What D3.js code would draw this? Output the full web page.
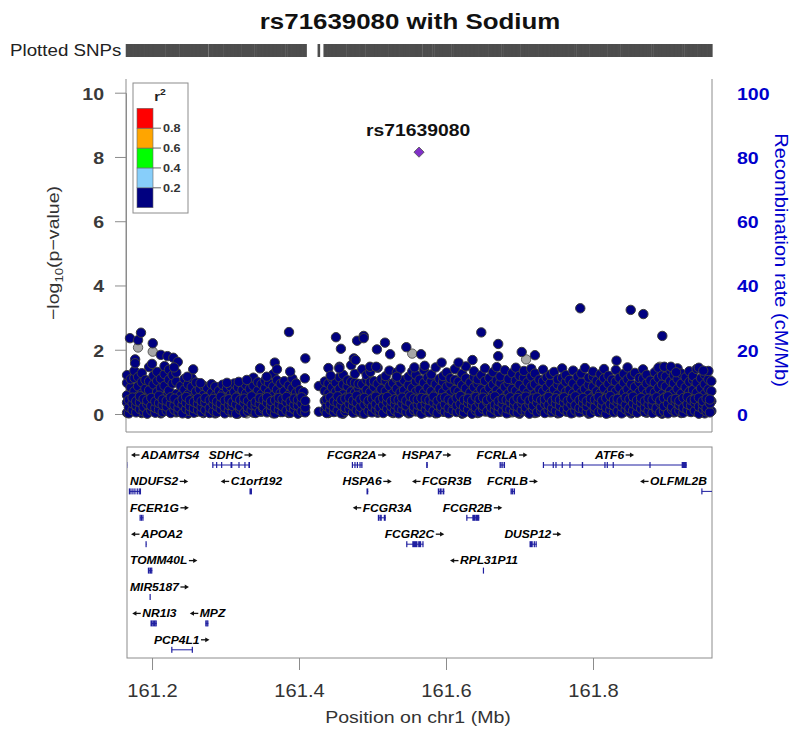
<!DOCTYPE html>
<html><head><meta charset="utf-8">
<script src="https://cdn.jsdelivr.net/npm/d3@7"></script>
<style>
body{margin:0;background:#fff}
text{font-family:"Liberation Sans",Arial,Helvetica,sans-serif}
</style></head><body>
<svg id="chart" width="793" height="730"></svg>
<script>
// ---- data ---------------------------------------------------------------
const chartTitle = "rs71639080 with Sodium";
const chromosome = "chr1";
const leadSnp = {name: "rs71639080", pos: 161.5633, logp: 8.15};
const xTicks = [161.2, 161.4, 161.6, 161.8];
const yTicks = [0, 2, 4, 6, 8, 10];
const recombTicks = [0, 20, 40, 60, 80, 100];
const ldBreaks = [0.2, 0.4, 0.6, 0.8];
const ldColors = ["#000080", "#87CEFA", "#00FF00", "#FFA500", "#FF0000"];

// SNPs with r2 < 0.2 to the lead SNP: [position (Mb), -log10 p, -log10 p, ...]
const snpColumns = [
  [161.166, 0.04,0.36,0.58,0.97,1.21], [161.171, 0.17,0.44,0.83,1.08],
  [161.176, 0.09,0.29,0.71,1.12,1.34], [161.181, 0.23,0.55,0.86,1.15],
  [161.186, 0.03,0.41,0.64,0.99,1.27], [161.191, 0.12,0.51,0.79,1.06],
  [161.196, 0.07,0.33,0.74,1.02,1.46], [161.202, 0.26,0.49,0.92,1.19],
  [161.207, 0.11,0.38,0.69,1.03,1.31], [161.212, 0.02,0.45,0.81,1.10],
  [161.217, 0.19,0.53,0.88,1.24,1.49], [161.223, 0.08,0.31,0.73,1.07,1.38],
  [161.228, 0.15,0.47,0.95,1.21], [161.233, 0.05,0.35,0.62,1.01,1.29],
  [161.239, 0.22,0.57,0.87], [161.244, 0.12,0.40,0.76,1.09],
  [161.249, 0.01,0.30,0.61,0.92], [161.254, 0.18,0.48,0.84,1.12],
  [161.260, 0.06,0.39,0.70,0.98], [161.265, 0.14,0.46,0.77],
  [161.270, 0.03,0.27,0.60,0.88], [161.275, 0.21,0.53,0.81],
  [161.281, 0.10,0.37,0.66,0.93], [161.286, 0.02,0.28,0.57,0.85],
  [161.291, 0.16,0.46,0.72], [161.296, 0.08,0.35,0.63,0.91],
  [161.302, 0.24,0.51,0.79], [161.307, 0.05,0.32,0.60,0.86],
  [161.312, 0.13,0.42,0.69,0.95], [161.317, 0.01,0.28,0.56,0.83],
  [161.323, 0.19,0.47,0.75], [161.328, 0.09,0.36,0.64,0.90],
  [161.333, 0.22,0.50,0.78], [161.338, 0.04,0.31,0.59,0.88,1.13],
  [161.344, 0.15,0.44,0.73,0.99], [161.349, 0.07,0.34,0.62,0.93],
  [161.354, 0.25,0.53,0.81,1.04], [161.359, 0.11,0.39,0.68,0.97],
  [161.365, 0.02,0.30,0.57,0.86,1.24], [161.370, 0.18,0.48,0.76,1.05],
  [161.375, 0.06,0.37,0.65,0.94], [161.380, 0.14,0.43,0.71,1.02],
  [161.386, 0.03,0.29,0.60,0.89], [161.391, 0.21,0.52,0.80,1.10],
  [161.396, 0.09,0.35,0.66,0.95], [161.401, 0.16,0.45,0.74],
  [161.406, 0.07,0.37,0.68], [161.427, 0.07,0.87],
  [161.435, 0.12,0.41,0.72,1.01], [161.440, 0.03,0.33,0.64,0.95,1.43],
  [161.445, 0.20,0.52,0.83,1.10], [161.450, 0.08,0.38,0.69,0.98],
  [161.455, 0.16,0.47,0.78,1.14,1.47], [161.460, 0.01,0.29,0.61,0.92,1.22],
  [161.466, 0.23,0.55,0.86,1.05], [161.471, 0.10,0.40,0.70,1.00,1.52],
  [161.476, 0.05,0.34,0.66,0.97,1.25], [161.481, 0.18,0.49,0.80,0.94],
  [161.486, 0.02,0.31,0.63,0.93,1.39], [161.492, 0.14,0.44,0.75,1.06,1.21],
  [161.497, 0.07,0.37,0.68,0.99,1.31], [161.502, 0.21,0.53,0.84,1.02],
  [161.507, 0.04,0.32,0.62,0.94,1.44], [161.512, 0.15,0.46,0.77,1.08],
  [161.518, 0.09,0.39,0.71,1.03,1.18], [161.523, 0.24,0.56,0.87,1.35],
  [161.528, 0.03,0.33,0.65,0.96], [161.533, 0.17,0.48,0.79,1.10,1.29],
  [161.538, 0.06,0.36,0.67,0.98,1.41], [161.543, 0.13,0.43,0.74,1.05],
  [161.549, 0.02,0.30,0.61,0.90,1.16], [161.554, 0.19,0.50,0.81,1.32],
  [161.559, 0.08,0.38,0.69,1.01,1.22], [161.564, 0.15,0.45,0.76,1.07],
  [161.570, 0.04,0.34,0.66,0.97,1.37], [161.575, 0.20,0.51,0.82,1.14],
  [161.580, 0.10,0.40,0.71,1.02,1.23], [161.586, 0.02,0.31,0.62,0.93,1.45],
  [161.591, 0.17,0.47,0.78,1.09], [161.596, 0.07,0.37,0.68,1.00,1.18],
  [161.601, 0.23,0.54,0.85,1.29], [161.606, 0.05,0.33,0.64,0.95,1.11],
  [161.612, 0.14,0.44,0.75,1.06,1.40], [161.617, 0.09,0.39,0.70,1.01],
  [161.622, 0.01,0.28,0.59,0.90,1.25], [161.627, 0.18,0.49,0.80,1.11,1.48],
  [161.633, 0.06,0.36,0.67,0.98], [161.638, 0.21,0.52,0.83,1.15,1.33],
  [161.643, 0.03,0.32,0.63,0.94,1.08], [161.648, 0.15,0.46,0.77,1.21],
  [161.653, 0.08,0.38,0.69,1.03,1.42], [161.659, 0.19,0.50,0.81,1.12],
  [161.664, 0.02,0.30,0.61,0.92,1.30], [161.669, 0.13,0.43,0.74,1.05,1.46],
  [161.674, 0.07,0.35,0.66,0.97,1.17], [161.680, 0.22,0.53,0.84,1.36],
  [161.685, 0.04,0.33,0.64,0.95,1.09], [161.690, 0.16,0.47,0.78,1.27],
  [161.695, 0.10,0.41,0.72,1.04,1.44], [161.700, 0.01,0.29,0.60,0.91,1.19],
  [161.706, 0.18,0.49,0.80,1.13,1.34], [161.711, 0.06,0.36,0.67,0.99],
  [161.716, 0.24,0.55,0.86,1.17,1.41], [161.721, 0.03,0.31,0.62,0.93,1.26],
  [161.727, 0.14,0.45,0.76,1.07], [161.732, 0.09,0.39,0.70,1.02,1.38],
  [161.737, 0.20,0.51,0.82,1.14], [161.742, 0.05,0.34,0.65,0.96,1.22],
  [161.747, 0.16,0.46,0.77,1.31], [161.752, 0.02,0.30,0.61,0.92,1.08],
  [161.758, 0.19,0.50,0.81,1.12,1.42], [161.763, 0.08,0.38,0.69,1.00,1.21],
  [161.768, 0.13,0.44,0.75,1.06], [161.773, 0.04,0.33,0.64,0.95,1.35],
  [161.779, 0.21,0.52,0.83,1.15], [161.784, 0.07,0.36,0.67,0.98,1.26],
  [161.789, 0.16,0.47,0.78,1.43], [161.794, 0.01,0.29,0.60,0.91,1.13],
  [161.800, 0.23,0.54,0.85,1.16,1.32], [161.805, 0.10,0.40,0.71,1.03],
  [161.810, 0.05,0.34,0.65,0.96,1.24], [161.815, 0.18,0.49,0.80,1.11,1.40],
  [161.821, 0.03,0.32,0.63,0.94,1.19], [161.826, 0.14,0.45,0.76,1.07],
  [161.831, 0.09,0.39,0.70,1.01,1.37], [161.836, 0.20,0.51,0.82,1.13],
  [161.842, 0.06,0.35,0.66,0.97,1.25], [161.847, 0.15,0.46,0.77,1.08,1.45],
  [161.852, 0.02,0.31,0.62,0.93,1.19], [161.857, 0.22,0.53,0.84,1.28],
  [161.863, 0.08,0.37,0.68,0.99,1.12], [161.868, 0.17,0.48,0.79,1.10,1.39],
  [161.873, 0.04,0.33,0.64,0.95,1.22], [161.878, 0.12,0.42,0.73,1.04],
  [161.884, 0.07,0.36,0.67,0.98,1.30], [161.889, 0.19,0.50,0.81,1.12,1.44],
  [161.894, 0.01,0.30,0.61,0.92,1.20], [161.899, 0.24,0.55,0.86,1.17],
  [161.905, 0.10,0.41,0.72,1.03,1.36], [161.910, 0.05,0.34,0.65,0.96,1.21],
  [161.915, 0.16,0.47,0.78,1.09,1.42], [161.920, 0.03,0.32,0.63,0.94,1.26],
  [161.926, 0.21,0.52,0.83,1.14], [161.931, 0.08,0.38,0.69,1.00,1.33],
  [161.936, 0.13,0.44,0.75,1.06,1.18], [161.941, 0.06,0.35,0.66,0.97,1.40],
  [161.947, 0.18,0.49,0.80,1.11], [161.952, 0.02,0.31,0.62,0.93,1.23],
  [161.957, 0.15,0.46,0.77,1.08,1.34], [161.961, 0.09,0.40,0.71,1.02]
];

// weaker SNPs (r2 < 0.2) between the columns above: [position, -log10 p, ...]
const lowColumns = [
  [161.1685,0.02,0.21,0.44],[161.1735,0.12,0.33,0.51],[161.1785,0.05,0.26,0.40],[161.1835,0.15,0.37,0.55],
  [161.1885,0.08,0.22,0.47],[161.1935,0.01,0.30,0.42],[161.1990,0.11,0.25,0.50],[161.2045,0.04,0.19,0.39],
  [161.2095,0.14,0.34,0.57],[161.2145,0.06,0.28,0.45],[161.2200,0.10,0.23,0.41],[161.2255,0.03,0.31,0.52],
  [161.2305,0.13,0.27,0.48],[161.2360,0.07,0.20,0.36],[161.2415,0.02,0.29,0.46],[161.2465,0.16,0.35,0.53],
  [161.2515,0.09,0.24,0.43],[161.2570,0.04,0.18,0.38],[161.2625,0.12,0.32,0.49],[161.2675,0.06,0.22,0.40],
  [161.2725,0.13,0.36,0.50],[161.2785,0.03,0.19,0.43],[161.2835,0.10,0.31,0.47],[161.2885,0.05,0.24,0.39],
  [161.2935,0.15,0.33,0.54],[161.2990,0.02,0.21,0.42],[161.3045,0.11,0.28,0.46],[161.3095,0.07,0.25,0.37],
  [161.3145,0.01,0.30,0.51],[161.3200,0.14,0.23,0.44],[161.3255,0.04,0.34,0.48],[161.3305,0.09,0.20,0.41],
  [161.3355,0.12,0.29,0.55],[161.3410,0.03,0.26,0.38],[161.3465,0.08,0.32,0.49],[161.3515,0.16,0.22,0.45],
  [161.3565,0.05,0.35,0.52],[161.3620,0.10,0.27,0.40],[161.3675,0.02,0.18,0.43],[161.3725,0.13,0.31,0.50],
  [161.3775,0.06,0.24,0.46],[161.3830,0.11,0.37,0.53],[161.3885,0.04,0.21,0.39],[161.3935,0.15,0.29,0.48],
  [161.3985,0.01,0.26,0.44],[161.4035,0.09,0.33,0.52],[161.4085,0.05,0.20,0.41],
  [161.4375,0.03,0.24,0.46],[161.4425,0.14,0.30,0.52],[161.4475,0.06,0.21,0.40],[161.4525,0.11,0.35,0.55],
  [161.4575,0.02,0.27,0.44],[161.4630,0.09,0.19,0.48],[161.4685,0.15,0.32,0.51],[161.4735,0.04,0.25,0.42],
  [161.4785,0.12,0.36,0.57],[161.4835,0.07,0.22,0.45],[161.4890,0.01,0.29,0.50],[161.4945,0.10,0.34,0.41],
  [161.4995,0.05,0.23,0.47],[161.5045,0.13,0.31,0.54],[161.5095,0.08,0.20,0.43],[161.5145,0.03,0.28,0.49],
  [161.5200,0.16,0.37,0.53],[161.5255,0.06,0.24,0.40],[161.5305,0.11,0.30,0.46],[161.5355,0.02,0.19,0.44],
  [161.5405,0.14,0.33,0.51],[161.5460,0.07,0.26,0.42],[161.5515,0.04,0.35,0.55],[161.5565,0.12,0.22,0.48],
  [161.5615,0.09,0.29,0.45],[161.5665,0.01,0.25,0.50],[161.5725,0.13,0.32,0.47],[161.5775,0.05,0.21,0.43],
  [161.5830,0.10,0.36,0.54],[161.5885,0.03,0.27,0.41],[161.5935,0.15,0.23,0.49],[161.5985,0.07,0.30,0.52],
  [161.6035,0.02,0.19,0.45],[161.6090,0.12,0.34,0.40],[161.6145,0.06,0.26,0.50],[161.6195,0.09,0.31,0.56],
  [161.6245,0.04,0.22,0.44],[161.6300,0.14,0.35,0.48],[161.6355,0.01,0.28,0.42],[161.6405,0.11,0.20,0.53],
  [161.6455,0.05,0.33,0.46],[161.6505,0.16,0.25,0.51],[161.6560,0.08,0.37,0.43],[161.6615,0.03,0.21,0.49],
  [161.6665,0.13,0.29,0.55],[161.6715,0.06,0.24,0.40],[161.6770,0.10,0.32,0.47],[161.6825,0.02,0.18,0.44],
  [161.6875,0.14,0.36,0.52],[161.6925,0.07,0.27,0.41],[161.6975,0.04,0.23,0.50],[161.7030,0.12,0.34,0.45],
  [161.7085,0.09,0.20,0.54],[161.7135,0.01,0.30,0.42],[161.7185,0.15,0.26,0.48],[161.7240,0.05,0.35,0.51],
  [161.7295,0.11,0.22,0.43],[161.7345,0.03,0.31,0.46],[161.7395,0.13,0.28,0.53],[161.7445,0.06,0.19,0.40],
  [161.7495,0.10,0.33,0.49],[161.7550,0.04,0.25,0.44],[161.7605,0.14,0.36,0.52],[161.7655,0.07,0.21,0.41],
  [161.7705,0.02,0.30,0.47],[161.7760,0.11,0.27,0.55],[161.7815,0.05,0.19,0.43],[161.7865,0.15,0.34,0.50],
  [161.7915,0.08,0.24,0.40],[161.7970,0.03,0.32,0.48],[161.8025,0.12,0.22,0.45],[161.8075,0.06,0.37,0.53],
  [161.8125,0.10,0.28,0.42],[161.8180,0.01,0.20,0.49],[161.8235,0.13,0.31,0.56],[161.8285,0.05,0.26,0.44],
  [161.8335,0.09,0.35,0.47],[161.8390,0.02,0.23,0.41],[161.8445,0.14,0.29,0.51],[161.8495,0.07,0.18,0.46],
  [161.8545,0.11,0.33,0.54],[161.8600,0.04,0.25,0.43],[161.8655,0.16,0.36,0.50],[161.8705,0.06,0.21,0.40],
  [161.8755,0.10,0.30,0.48],[161.8810,0.03,0.27,0.45],[161.8865,0.12,0.19,0.52],[161.8915,0.05,0.34,0.42],
  [161.8965,0.09,0.24,0.49],[161.9020,0.02,0.32,0.55],[161.9075,0.14,0.22,0.44],[161.9125,0.07,0.37,0.47],
  [161.9175,0.11,0.28,0.41],[161.9230,0.04,0.20,0.50],[161.9285,0.13,0.31,0.53],[161.9335,0.06,0.26,0.43],
  [161.9385,0.10,0.35,0.46],[161.9440,0.01,0.23,0.51],[161.9495,0.15,0.29,0.40],[161.9545,0.08,0.18,0.48],
  [161.9590,0.05,0.33,0.45]
];

// individually read SNPs standing out of the band (r2 < 0.2): [position, -log10 p]
const notableSnps = [
  [161.1700,2.36],[161.1810,2.30],[161.1850,2.53],[161.2010,2.20],[161.1770,1.70],
  [161.1770,1.58],[161.2000,1.56],[161.2120,1.84],[161.2210,1.80],[161.2290,1.75],
  [161.2350,1.62],[161.2300,1.45],[161.2560,1.39],[161.2480,1.16],[161.2660,0.96],
  [161.3020,0.97],[161.3180,1.00],[161.3290,1.06],[161.3470,1.42],[161.3560,1.16],
  [161.3670,1.60],[161.3700,1.39],[161.3864,2.55],[161.3880,1.32],[161.4080,1.11],
  [161.4086,1.73],[161.4503,2.39],[161.4431,1.19],[161.4548,1.42],[161.4570,2.03],
  [161.4746,1.73],[161.4770,1.68],[161.4790,2.28],[161.4880,2.43],[161.4880,2.36],
  [161.4966,1.47],[161.5050,1.47],[161.5060,2.01],[161.5170,2.22],[161.5240,1.86],
  [161.5330,1.16],[161.5460,2.08],[161.5570,1.45],[161.5660,1.86],[161.5710,1.50],
  [161.5940,1.60],[161.6170,1.60],[161.6360,1.68],[161.6480,2.54],[161.6710,2.18],
  [161.6710,1.80],[161.7030,1.93],[161.7210,1.83],[161.7827,3.29],[161.8320,1.66],
  [161.8513,3.24],[161.8685,3.11],[161.8943,2.43],[161.8970,1.47],[161.9060,1.47],
  [161.9130,1.30],[161.9440,1.44],[161.9500,1.35]
];

// SNPs without LD information: [position, -log10 p]
const noLdSnps = [
  [161.1810,2.07],[161.2010,1.94],[161.2676,0.80],[161.3290,0.02],[161.5465,0.64],
  [161.5490,0.64],[161.5540,1.88],[161.5620,1.16],[161.6170,1.35],[161.7090,1.70],
  [161.8910,1.47],[161.9170,1.25],[161.2400,0.30],[161.4500,0.10],[161.6900,0.05]
];

// RefSeq genes in the region (Mb); exons as [start, end]
const genes = [
  {name:"ADAMTS4", strand:"-", start:161.1654, end:161.1662, exons:[[161.1654,161.1662]]},
  {name:"NDUFS2", strand:"+", start:161.1691, end:161.1846, exons:[[161.1691,161.1696],[161.1712,161.1717],[161.1739,161.1744],[161.1766,161.1771],[161.1798,161.1803],[161.1825,161.1830],[161.1841,161.1846]]},
  {name:"FCER1G", strand:"+", start:161.1837, end:161.1882, exons:[[161.1837,161.1845],[161.1855,161.1860],[161.1875,161.1882]]},
  {name:"APOA2", strand:"-", start:161.1918, end:161.1925, exons:[[161.1918,161.1925]]},
  {name:"TOMM40L", strand:"+", start:161.1950, end:161.2004, exons:[[161.1950,161.1966],[161.1974,161.1990],[161.1995,161.2004]]},
  {name:"MIR5187", strand:"+", start:161.1973, end:161.1975, exons:[[161.1973,161.1975]]},
  {name:"NR1I3", strand:"-", start:161.1986, end:161.2064, exons:[[161.1986,161.2005],[161.2012,161.2026],[161.2034,161.2050],[161.2055,161.2064]]},
  {name:"PCP4L1", strand:"+", start:161.2268, end:161.2553, exons:[[161.2268,161.2273],[161.2547,161.2553]]},
  {name:"MPZ", strand:"-", start:161.2731, end:161.2766, exons:[[161.2731,161.2739],[161.2745,161.2751],[161.2758,161.2766]]},
  {name:"SDHC", strand:"+", start:161.2826, end:161.3333, exons:[[161.2826,161.2830],[161.2878,161.2882],[161.2946,161.2950],[161.3075,161.3093],[161.3182,161.3186],[161.3263,161.3267],[161.3318,161.3333]]},
  {name:"C1orf192", strand:"-", start:161.3333, end:161.3360, exons:[[161.3333,161.3360]]},
  {name:"FCGR2A", strand:"+", start:161.4725, end:161.4861, exons:[[161.4725,161.4731],[161.4760,161.4767],[161.4793,161.4800],[161.4829,161.4836],[161.4854,161.4861]]},
  {name:"HSPA6", strand:"+", start:161.4925, end:161.4942, exons:[[161.4925,161.4942]]},
  {name:"FCGR3A", strand:"-", start:161.5079, end:161.5180, exons:[[161.5079,161.5096],[161.5110,161.5126],[161.5160,161.5180]]},
  {name:"FCGR2C", strand:"+", start:161.5465, end:161.5691, exons:[[161.5465,161.5470],[161.5548,161.5612],[161.5628,161.5662],[161.5685,161.5691]]},
  {name:"HSPA7", strand:"+", start:161.5737, end:161.5752, exons:[[161.5737,161.5752]]},
  {name:"FCGR3B", strand:"-", start:161.5895, end:161.5977, exons:[[161.5895,161.5912],[161.5925,161.5941],[161.5960,161.5977]]},
  {name:"FCGR2B", strand:"+", start:161.6282, end:161.6453, exons:[[161.6282,161.6287],[161.6365,161.6396],[161.6405,161.6453]]},
  {name:"RPL31P11", strand:"-", start:161.6508, end:161.6513, exons:[[161.6508,161.6513]]},
  {name:"FCRLA", strand:"+", start:161.6735, end:161.6803, exons:[[161.6735,161.6746],[161.6760,161.6772],[161.6790,161.6803]]},
  {name:"FCRLB", strand:"+", start:161.6884, end:161.6939, exons:[[161.6884,161.6896],[161.6905,161.6915],[161.6928,161.6939]]},
  {name:"DUSP12", strand:"+", start:161.7143, end:161.7234, exons:[[161.7143,161.7180],[161.7200,161.7210],[161.7225,161.7234]]},
  {name:"ATF6", strand:"+", start:161.7324, end:161.9275, exons:[[161.7324,161.7328],[161.7458,161.7462],[161.7495,161.7499],[161.7580,161.7584],[161.7685,161.7689],[161.7854,161.7866],[161.8161,161.8165],[161.8193,161.8197],[161.8274,161.8278],[161.8774,161.8778],[161.9213,161.9275]]},
  {name:"OLFML2B", strand:"-", start:161.9480, end:161.9930, exons:[[161.9480,161.9484]]}
];

// ---- layout ---------------------------------------------------------------
const SX = 1.15;                         // horizontal stretch of all lettering
const plot = {left: 126, right: 712, top: 79, bottom: 432};
const genePanel = {top: 447, bottom: 658};
const svg = d3.select("#chart");

const x = d3.scaleLinear().domain([161.1646, 161.9619]).range([plot.left, plot.right]);
const y = d3.scaleLinear().domain([0, 10]).range([414, 92.7]);
const yRecomb = d3.scaleLinear().domain([0, 100]).range([414, 92.7]);
const ldColor = d3.scaleThreshold().domain(ldBreaks).range(ldColors);

function label(parent, px, py, str, o = {}) {
  const t = parent.append("text")
    .attr("transform", `translate(${px},${py})${o.rotate ? ` rotate(${o.rotate})` : ""} scale(${o.sx ?? SX},1)`)
    .attr("text-anchor", o.anchor || "start")
    .attr("font-size", o.size || 12)
    .attr("fill", o.fill || "#000");
  if (o.weight) t.attr("font-weight", o.weight);
  if (o.italic) t.attr("font-style", "italic");
  if (str !== null) t.text(str);
  return t;
}

// flatten the SNP tables
const flatten = rows => rows.flatMap(([pos, ...vals]) => vals.map(v => ({pos, logp: v, r2: 0.1})));
const snps = flatten(snpColumns)
  .concat(notableSnps.map(([pos, v]) => ({pos, logp: v, r2: 0.1})))
  .concat(flatten(lowColumns));
const greySnps = noLdSnps.map(([pos, v]) => ({pos, logp: v}));

// ---- title + plotted SNP rug ---------------------------------------------
label(svg, 410, 29, chartTitle, {anchor: "middle", size: 22.5, weight: "bold", fill: "#111"});
label(svg, 10, 56, "Plotted SNPs", {size: 16.3, fill: "#222"});
const allPositions = Array.from(new Set(snps.map(d => d.pos).concat(greySnps.map(d => d.pos), [leadSnp.pos])));
svg.append("g").selectAll("line").data(allPositions).join("line")
  .attr("x1", d => x(d)).attr("x2", d => x(d))
  .attr("y1", 44).attr("y2", 57)
  .attr("stroke", "#4d4d4d").attr("stroke-width", 2.6);

// ---- association panel -----------------------------------------------------
const frame = svg.append("g").attr("stroke", "#8c8c8c").attr("stroke-width", 1).attr("fill", "none");
frame.append("line").attr("x1", plot.left).attr("x2", plot.left).attr("y1", plot.top).attr("y2", plot.bottom);
frame.append("line").attr("x1", plot.right).attr("x2", plot.right).attr("y1", plot.top).attr("y2", plot.bottom);
frame.append("line").attr("x1", plot.left).attr("x2", plot.right).attr("y1", plot.bottom).attr("y2", plot.bottom);

const yAxis = svg.append("g").attr("transform", `translate(${plot.left},0)`)
  .call(d3.axisLeft(y).tickValues(yTicks).tickSize(11).tickSizeOuter(0));
yAxis.select(".domain").attr("stroke", "#8c8c8c");
yAxis.selectAll(".tick line").attr("stroke", "#8c8c8c");
yAxis.selectAll(".tick text").each(function () {
  d3.select(this).attr("x", null).attr("dy", null)
    .attr("transform", `translate(-22,6.3) scale(${SX},1)`)
    .attr("font-size", 17).attr("font-weight", "bold").attr("fill", "#3a3a3a").attr("font-family", null);
});

const rAxis = svg.append("g").attr("transform", `translate(${plot.right},0)`)
  .call(d3.axisRight(yRecomb).tickValues(recombTicks).tickSize(0));
rAxis.select(".domain").remove();
rAxis.selectAll(".tick text").each(function () {
  d3.select(this).attr("x", null).attr("dy", null)
    .attr("transform", `translate(25,6.3) scale(${SX},1)`)
    .attr("font-size", 17).attr("font-weight", "bold").attr("fill", "#0000CC").attr("font-family", null);
});

// y titles
const yTitle = label(svg, 59, 253, null, {rotate: -90, anchor: "middle", size: 17, fill: "#333"});
yTitle.append("tspan").text("\u2212log");
yTitle.append("tspan").attr("font-size", 11.5).attr("dy", 4).text("10");
yTitle.append("tspan").attr("dy", -4).text("(p\u2212value)");
label(svg, 775, 260, "Recombination rate (cM/Mb)", {rotate: 90, anchor: "middle", size: 17.5, fill: "#0000CC"});

// points
const pts = svg.append("g");
pts.selectAll("circle.grey").data(greySnps).join("circle").attr("class", "grey")
  .attr("cx", d => x(d.pos)).attr("cy", d => y(d.logp)).attr("r", 4.7)
  .attr("fill", "#a6a6a6").attr("stroke", "#505050").attr("stroke-width", 0.9);
pts.selectAll("circle.ld").data(snps).join("circle").attr("class", "ld")
  .attr("cx", d => x(d.pos)).attr("cy", d => y(d.logp)).attr("r", 4.7)
  .attr("fill", d => ldColor(d.r2)).attr("stroke", "#3c3c3c").attr("stroke-width", 1);

// lead SNP
svg.append("path")
  .attr("d", d3.symbol(d3.symbolSquare, 52)())
  .attr("transform", `translate(${x(leadSnp.pos)},${y(leadSnp.logp)}) rotate(45)`)
  .attr("fill", "#8030C8").attr("stroke", "#555").attr("stroke-width", 0.8);
label(svg, x(leadSnp.pos) - 1, y(leadSnp.logp) - 16, leadSnp.name, {anchor: "middle", size: 16.8, weight: "bold", fill: "#111"});

// r2 legend
const leg = svg.append("g");
leg.append("rect").attr("x", 133).attr("y", 83).attr("width", 55).attr("height", 130)
  .attr("fill", "#fff").attr("stroke", "#8c8c8c");
const r2t = label(leg, 160, 101, null, {anchor: "middle", size: 13, weight: "bold", fill: "#222"});
r2t.append("tspan").text("r");
r2t.append("tspan").attr("font-size", 9).attr("dy", -6).text("2");
const legY = d3.scaleLinear().domain([0, 1]).range([207.7, 108.3]);
const legBins = [0].concat(ldBreaks).map((lo, i) => ({lo, hi: i < ldBreaks.length ? ldBreaks[i] : 1}));
leg.selectAll("rect.bin").data(legBins).join("rect").attr("class", "bin")
  .attr("x", 137).attr("width", 16)
  .attr("y", d => legY(d.hi)).attr("height", d => legY(d.lo) - legY(d.hi))
  .attr("fill", d => ldColor(d.lo)).attr("stroke", "#666").attr("stroke-width", 0.6);
leg.selectAll("line.brk").data(ldBreaks).join("line").attr("class", "brk")
  .attr("x1", 153).attr("x2", 161).attr("y1", d => legY(d)).attr("y2", d => legY(d))
  .attr("stroke", "#666");
ldBreaks.forEach(b => label(leg, 163, legY(b) + 4, b.toFixed(1), {size: 11, weight: "bold", fill: "#333"}));

// ---- gene panel ------------------------------------------------------------
svg.append("rect").attr("x", plot.left + 1).attr("y", genePanel.top)
  .attr("width", plot.right - plot.left - 1).attr("height", genePanel.bottom - genePanel.top)
  .attr("fill", "none").attr("stroke", "#8c8c8c");
svg.append("clipPath").attr("id", "geneClip").append("rect")
  .attr("x", plot.left + 1).attr("y", genePanel.top).attr("width", plot.right - plot.left - 1)
  .attr("height", genePanel.bottom - genePanel.top);

const geneColor = "#1f1fa0";
const rowTextY = r => 455 + r * 26.4;
const ARROW = 11;                       // room taken by the strand arrow next to a name
const gG = svg.append("g");
const geneLayer = gG.append("g").attr("clip-path", "url(#geneClip)");
const rowEnds = [];
const PAD = 7;

// strand arrow: shaft plus a small filled head, pointing right (dir 1) or left (dir -1)
function strandArrow(parent, x0, cy, dir) {
  const tip = dir > 0 ? x0 + ARROW - 1 : x0 + 1;
  const tail = dir > 0 ? x0 + 1.5 : x0 + ARROW - 1.5;
  parent.append("line").attr("x1", tail).attr("x2", tip - dir * 3).attr("y1", cy).attr("y2", cy)
    .attr("stroke", "#111").attr("stroke-width", 1.3);
  parent.append("path")
    .attr("d", `M${tip},${cy}L${tip - dir * 4.2},${cy - 2.4}L${tip - dir * 4.2},${cy + 2.4}Z`)
    .attr("fill", "#111");
}

genes.slice().sort((a, b) => a.start - b.start).forEach(g => {
  const t = label(gG, 0, 0, g.name, {anchor: "start", size: 10.5, italic: true, weight: "bold", fill: "#000"});
  const nameW = t.node().getComputedTextLength() * SX;
  const w = nameW + ARROW;
  let left = x((g.start + g.end) / 2) - w / 2;
  left = Math.max(plot.left + 4, Math.min(plot.right - 5 - w, left));
  const extL = Math.min(left, x(g.start)), extR = Math.max(left + w, x(g.end));
  let row = rowEnds.findIndex(e => e + PAD < extL);
  if (row < 0) { row = rowEnds.length; rowEnds.push(extR); } else rowEnds[row] = extR;
  const ty = rowTextY(row);
  const textX = g.strand === "+" ? left : left + ARROW;
  t.attr("transform", `translate(${textX},${ty + 3.8}) scale(${SX},1)`);
  if (g.strand === "+") strandArrow(gG, left + nameW, ty, 1);
  else strandArrow(gG, left, ty, -1);
  const gy = ty + 10;
  geneLayer.append("line").attr("x1", x(g.start)).attr("x2", x(g.end)).attr("y1", gy).attr("y2", gy)
    .attr("stroke", geneColor).attr("stroke-width", 1);
  geneLayer.selectAll(null).data(g.exons).join("rect")
    .attr("x", e => x(e[0]) - 0.5).attr("width", e => Math.max(1.2, x(e[1]) - x(e[0]) + 0.5))
    .attr("y", gy - 3).attr("height", 6).attr("fill", geneColor);
});

// x axis under gene panel
const xAxis = svg.append("g").attr("transform", `translate(0,${genePanel.bottom})`)
  .call(d3.axisBottom(x).tickValues(xTicks).tickSize(12).tickSizeOuter(0).tickFormat(d3.format(".1f")));
xAxis.select(".domain").remove();
xAxis.selectAll(".tick line").attr("stroke", "#8c8c8c");
xAxis.selectAll(".tick text").each(function () {
  d3.select(this).attr("y", null).attr("dy", null)
    .attr("transform", `translate(0,39) scale(${SX},1)`)
    .attr("font-size", 17.5).attr("fill", "#333").attr("font-family", null);
});
label(svg, 418, 723, `Position on ${chromosome} (Mb)`, {anchor: "middle", size: 17, fill: "#333"});
</script>
</body></html>
